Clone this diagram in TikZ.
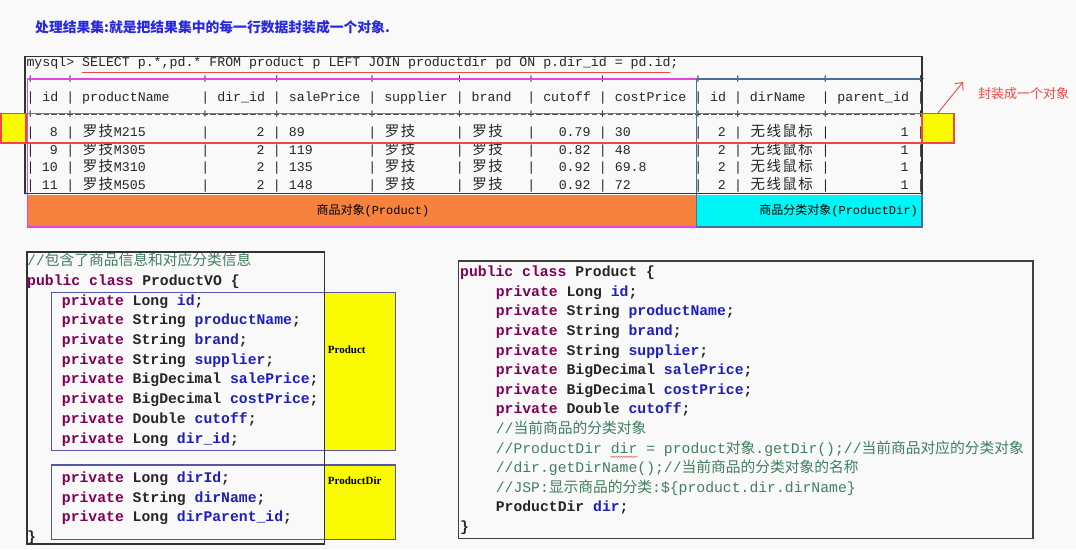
\documentclass[tikz,border=0pt]{standalone}
\usepackage{fontspec}
\setmonofont{Liberation Mono}
\newfontfamily\cjk{Noto Sans CJK SC}
\newfontfamily\lserif{Liberation Serif}
\usetikzlibrary{arrows.meta,decorations.pathmorphing}
\definecolor{pagebg}{RGB}{249,249,249}
\definecolor{titleblue}{RGB}{40,40,225}
\definecolor{kwred}{RGB}{127,0,85}
\definecolor{fldblue}{RGB}{30,30,190}
\definecolor{cmtgreen}{RGB}{63,127,95}
\definecolor{hlred}{RGB}{240,70,70}
\definecolor{prodorange}{RGB}{247,130,62}
\definecolor{dircyan}{RGB}{0,246,246}
\definecolor{markyellow}{RGB}{250,250,0}
\definecolor{boxmagenta}{RGB}{225,70,225}
\definecolor{dirsteel}{RGB}{75,110,150}
\definecolor{voblue}{RGB}{85,85,170}
\newcommand{\zh}[1]{{\cjk #1}}
\newcommand{\zc}[1]{\makebox[15.9pt]{\fontsize{14.5}{15}\cjk #1}}
\newcommand{\kw}[1]{\textcolor{kwred}{#1}}
\newcommand{\fld}[1]{\textcolor{fldblue}{#1}}
\def\tabx{26.3}
\def\tabw{7.95}

\begin{document}
\begin{tikzpicture}[
  x=1pt,y=-1pt,
  tab/.style={font=\ttfamily\frenchspacing\fontsize{13.25}{15}\selectfont,text=black!85,inner sep=0pt,anchor=base west},
  code/.style={font=\ttfamily\bfseries\fontsize{14.75}{16}\selectfont,text=black!85,inner sep=0pt,anchor=base west},
  cmt/.style={font=\ttfamily\fontsize{14.75}{16}\selectfont,text=cmtgreen,inner sep=0pt,anchor=base west},
  tag/.style={font=\lserif\bfseries\fontsize{11}{12}\selectfont,inner sep=0pt,anchor=west},
  lbl/.style={font=\ttfamily\fontsize{12}{13}\selectfont,inner sep=0pt},
  ruler/.style={draw=black!65,line width=0.8pt,dash pattern=on 5.3pt off 2.65pt},
  ybox/.style={fill=markyellow,draw=hlred,line width=1.2pt,minimum height=29.7pt,inner sep=0pt},
  redarr/.style={draw=hlred,line width=0.9pt,-{Straight Barb[length=6pt,width=11pt]}}
]
\fill[pagebg] (0,0) rectangle (1076,549);
\useasboundingbox (0,0) rectangle (1076,549);

\node[font=\cjk\bfseries\fontsize{13.8}{15}\selectfont,text=titleblue,anchor=base west,inner sep=0pt] (title) at (35,32) {处理结果集:就是把结果集中的每一行数据封装成一个对象.};

% query result
\node[tab] (sql) at (\tabx,66.5) {mysql> SELECT p.*,pd.* FROM product p LEFT JOIN productdir pd ON p.dir\_id = pd.id;};
\draw[hlred,line width=1.6pt] (82,72.5) -- (670,72.5);

\foreach \r in {79.5,114.5}{
  \draw[ruler] ({\tabx+\tabw+1.3},\r) -- ({\tabx+112*\tabw},\r);
  \foreach \s in {0,5,22,31,43,54,63,72,84,89,100,112}
    \node[tab,anchor=center] at ({\tabx+(\s+0.5)*\tabw},\r) {+};
}
\foreach \r in {101.5,136.5,154,171.5,189}
  \foreach \s in {0,5,22,31,43,54,63,72,84,89,100,112}
    \node[tab] at ({\tabx+\s*\tabw},\r) {|};
\foreach \c/\t in {2/id,7/productName,24/dir\_id,33/salePrice,45/supplier,56/brand,65/cutoff,74/costPrice,86/id,91/dirName,102/parent\_id}
  \node[tab] at ({\tabx+\c*\tabw},101.5) {\t};
\foreach \r/\i/\m/\p/\d/\q in {136.5/8/M215/89/0.79/30,154/9/M305/119/0.82/48,171.5/10/M310/135/0.92/69.8,189/11/M505/148/0.92/72}{
  \node[tab,anchor=base east] at ({\tabx+4*\tabw},\r) {\i};
  \node[tab] at ({\tabx+7*\tabw},\r) {\zc{罗}\zc{技}\m};
  \node[tab,anchor=base east] at ({\tabx+30*\tabw},\r) {2};
  \node[tab] at ({\tabx+33*\tabw},\r) {\p};
  \node[tab] at ({\tabx+45*\tabw},\r) {\zc{罗}\zc{技}};
  \node[tab] at ({\tabx+56*\tabw},\r) {\zc{罗}\zc{技}};
  \node[tab,anchor=base east] at ({\tabx+71*\tabw},\r) {\d};
  \node[tab] at ({\tabx+74*\tabw},\r) {\q};
  \node[tab,anchor=base east] at ({\tabx+88*\tabw},\r) {2};
  \node[tab] at ({\tabx+91*\tabw},\r) {\zc{无}\zc{线}\zc{鼠}\zc{标}};
  \node[tab,anchor=base east] at ({\tabx+111*\tabw},\r) {1};
}

\fill[prodorange] (27.5,195) rectangle (696.5,227);
\node[lbl] (prodlbl) at (373,211) {\zh{商品对象}(Product)};
\fill[dircyan] (696.5,195) rectangle (922,227);
\node[lbl,anchor=east] (dirlbl) at (918,211) {\zh{商品分类对象}(ProductDir)};
\draw[boxmagenta,line width=1.2pt] (27.5,79) rectangle (696.5,227);
\draw[dirsteel,line width=1.2pt] (696.5,79) rectangle (922,227);
\draw[black!80,line width=1.2pt] (25,56.5) rectangle (922,193.5);

% one row -> one object
\node[ybox,minimum width=25pt] (yl) at (13.5,128.2) {};
\node[ybox,minimum width=32pt] (yr) at (938,128.2) {};
\draw[hlred,line width=1.5pt] (1,113.3) rectangle (954,143);
\coordinate (wraptip) at (963,82);
\draw[redarr] (yr.north) -- (wraptip);
\node[font=\cjk\fontsize{13}{14}\selectfont,text=hlred,anchor=west,inner sep=0pt] (wrap) at (978,94) {封装成一个对象};

% ProductVO
\fill[markyellow] (325,292.3) rectangle (395.7,450.7);
\fill[markyellow] (325,465) rectangle (395.7,539.3);
\node[cmt] (vocmt) at (27,265.7) {//\zh{包含了商品信息和对应分类信息}};
\node[code] (vohead) at (27,285.4) {\kw{public class} ProductVO \{};
\foreach \k/\t/\f in {2/Long/id,3/String/productName,4/String/brand,5/String/supplier,6/BigDecimal/salePrice,7/BigDecimal/costPrice,8/Double/cutoff,9/Long/dir\_id,11/Long/dirId,12/String/dirName,13/Long/dirParent\_id}
  \node[code] at (61.7,{265.7+19.7*\k}) {\kw{private} \t\ \fld{\f};};
\node[code] (voend) at (27,541.5) {\}};
\node[tag] (tagprod) at (327.7,349.3) {Product};
\node[tag] (tagdir) at (327.7,480.7) {ProductDir};
\draw[voblue,line width=1.2pt] (51.7,292.3) rectangle (395.7,450.7);
\draw[voblue,line width=1.2pt] (51.7,465) rectangle (395.7,539.3);
\draw[black!80,line width=1.2pt] (27,252) rectangle (324.3,544);

% Product
\node[code] (phead) at (460,276.7) {\kw{public class} Product \{};
\foreach \k/\t/\f in {1/Long/id,2/String/productName,3/String/brand,4/String/supplier,5/BigDecimal/salePrice,6/BigDecimal/costPrice,7/Double/cutoff}
  \node[code] at (495.6,{276.7+19.6*\k}) {\kw{private} \t\ \fld{\f};};
\node[cmt] (pc1) at (495.6,433.5) {//\zh{当前商品的分类对象}};
\node[cmt] (pc2) at (495.6,453.1) {//ProductDir dir = product\zh{对象}.getDir();//\zh{当前商品对应的分类对象}};
\node[cmt] (pc3) at (495.6,472.7) {//dir.getDirName();//\zh{当前商品的分类对象的名称}};
\node[cmt] (pc4) at (495.6,492.3) {//JSP:\zh{显示商品的分类}:\$\{product.dir.dirName\}};
\node[code] (pdir) at (495.6,511.9) {ProductDir \fld{dir};};
\node[code] (pend) at (460,531.5) {\}};
\draw[hlred,decorate,decoration={snake,amplitude=0.7pt,segment length=2.5pt}] (610.6,456.8) -- (637.2,456.8);
\draw[black!75,line width=1.5pt] (458.3,261) rectangle (1033,538.3);
\end{tikzpicture}
\end{document}
